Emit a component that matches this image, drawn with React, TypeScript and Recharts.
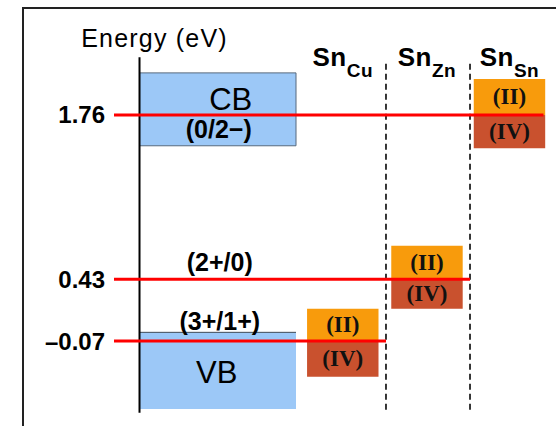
import { ComposedChart, ReferenceArea, ReferenceDot, ReferenceLine, XAxis, YAxis } from "recharts";

// transition levels (eV) for Sn on Cu, Zn and Sn sites
const sites = ["Cu", "Zn", "Sn"];
const levels = [-0.07, 0.43, 1.76];
const levelLabels = ["(3+/1+)", "(2+/0)", "(0/2−)"];
const stateTop = [0.19, 0.7, 2.05]; // top of the (II) box
const stateBottom = [-0.36, 0.19, 1.49]; // bottom of the (IV) box
const stateNames = ["(II)", "(IV)"];
const cbBand = [1.51, 2.1];
const vbBand = [-0.62, 0.0];

// layout in x units (axis at 0, one column ~ 1)
const HOST_W = 1.84;
const COL_X = [2.39, 3.38, 4.35];
const COL_HALF = 0.42;
const DIV_X = [2.898, 3.886];
const LINE_END = [2.898, 3.886, 4.75];
const X_MIN = -0.3;

const ARIAL = "'Liberation Sans', Arial, sans-serif";
const TIMES = "'Liberation Serif', 'Times New Roman', serif";

const TextAt = ({ viewBox, text, sub, dx = 0, dy = 0, size = 25, weight = "bold", subSize = 19, subDy = 11, spacing = 0 }: any) => {
  const cx = viewBox.x + viewBox.width / 2;
  const cy = viewBox.y + viewBox.height / 2;
  return (
    <text
      x={cx + dx}
      y={cy + dy}
      textAnchor="middle"
      fontFamily={ARIAL}
      fontSize={size}
      fontWeight={weight}
      letterSpacing={spacing}
      fill="#000"
    >
      {text}
      {sub && (
        <tspan fontSize={subSize} dy={subDy}>
          {sub}
        </tspan>
      )}
    </text>
  );
};

const StateLabel = ({ viewBox, text }: any) => (
  <text
    x={viewBox.x + viewBox.width / 2}
    y={viewBox.y + viewBox.height / 2 + 7}
    textAnchor="middle"
    fontFamily={TIMES}
    fontSize={23}
    fontWeight="bold"
    fill="#111"
  >
    {text}
  </text>
);

export default function App() {
  return (
    <div style={{ position: "absolute", left: 0, top: 0, width: 556, height: 426, background: "#fff", overflow: "hidden" }}>
      <div
        style={{
          position: "absolute",
          left: 22,
          top: 7,
          width: 540,
          height: 440,
          borderTop: "2px solid #222",
          borderLeft: "2px solid #222",
        }}
      />
      <div style={{ position: "absolute", left: 0, top: 0 }}>
        <ComposedChart width={556} height={426} data={[]} margin={{ top: 42, right: 4, bottom: 1, left: 0 }}>
          <XAxis type="number" dataKey="x" domain={[X_MIN, 4.85]} allowDataOverflow hide />
          <YAxis
            type="number"
            domain={[-0.75, 2.35]}
            allowDataOverflow
            ticks={levels}
            interval={0}
            width={114}
            axisLine={false}
            tickLine={false}
            tickSize={0}
            tickMargin={9}
            tick={{ fill: "#000", fontSize: 24, fontWeight: "bold", fontFamily: ARIAL }}
            tickFormatter={(v: number) => (v < 0 ? "–" + Math.abs(v).toFixed(2) : v.toFixed(2))}
          />

          {/* conduction and valence bands */}
          <ReferenceArea
            x1={0}
            x2={HOST_W}
            y1={cbBand[0]}
            y2={cbBand[1]}
            fill="#9cc8f7"
            fillOpacity={1}
            stroke="#56697d"
            strokeWidth={1}
            ifOverflow="visible"
            label={<TextAt text="CB" size={31} weight="normal" dx={13} dy={1} />}
          />
          <ReferenceArea
            x1={0}
            x2={HOST_W}
            y1={vbBand[0]}
            y2={vbBand[1]}
            fill="#9cc8f7"
            fillOpacity={1}
            ifOverflow="visible"
            label={<TextAt text="VB" size={31} weight="normal" dx={-1} dy={12} />}
          />
          <ReferenceLine
            segment={[
              { x: 0, y: vbBand[1] },
              { x: HOST_W, y: vbBand[1] },
            ]}
            stroke="#3f4a55"
            strokeWidth={1}
            ifOverflow="visible"
          />

          {/* (II) / (IV) boxes */}
          {sites.map((s, i) => (
            <ReferenceArea
              key={"ii" + s}
              x1={COL_X[i] - COL_HALF}
              x2={COL_X[i] + COL_HALF}
              y1={levels[i]}
              y2={stateTop[i]}
              fill="#f89b0c"
              fillOpacity={1}
              ifOverflow="visible"
              label={<StateLabel text={stateNames[0]} />}
            />
          ))}
          {sites.map((s, i) => (
            <ReferenceArea
              key={"iv" + s}
              x1={COL_X[i] - COL_HALF}
              x2={COL_X[i] + COL_HALF}
              y1={stateBottom[i]}
              y2={levels[i]}
              fill="#c9512e"
              fillOpacity={1}
              ifOverflow="visible"
              label={<StateLabel text={stateNames[1]} />}
            />
          ))}

          {/* column dividers */}
          {DIV_X.map((x) => (
            <ReferenceLine
              key={"d" + x}
              segment={[
                { x, y: -0.627 },
                { x, y: 2.18 },
              ]}
              stroke="#222"
              strokeWidth={1.8}
              strokeDasharray="6 4"
              ifOverflow="visible"
            />
          ))}

          {/* energy axis */}
          <ReferenceLine
            segment={[
              { x: 0, y: -0.651 },
              { x: 0, y: 2.227 },
            ]}
            stroke="#000"
            strokeWidth={2}
            ifOverflow="visible"
          />

          {/* transition levels */}
          {levels.map((e, i) => (
            <ReferenceLine
              key={"l" + e}
              segment={[
                { x: X_MIN, y: e },
                { x: LINE_END[i], y: e },
              ]}
              stroke="#ff0000"
              strokeWidth={3}
              ifOverflow="visible"
            />
          ))}

          {/* level labels */}
          <ReferenceDot x={HOST_W / 2} y={levels[2]} r={0} ifOverflow="visible" label={<TextAt text={levelLabels[2]} dy={23} dx={1} />} />
          <ReferenceDot x={HOST_W / 2} y={levels[1]} r={0} ifOverflow="visible" label={<TextAt text={levelLabels[1]} dy={-8} dx={2} />} />
          <ReferenceDot x={HOST_W / 2} y={levels[0]} r={0} ifOverflow="visible" label={<TextAt text={levelLabels[0]} dy={-11} dx={2} />} />

          {/* site headers */}
          {sites.map((s, i) => (
            <ReferenceDot key={"h" + s} x={COL_X[i]} y={2.18} r={0} ifOverflow="visible" label={<TextAt text="Sn" sub={s} size={26} dy={3} spacing={0.5} />} />
          ))}

          {/* axis title */}
          <ReferenceDot
            x={0}
            y={2.227}
            r={0}
            ifOverflow="visible"
            label={<TextAt text="Energy (eV)" size={25} weight="normal" dx={15} dy={-10} spacing={1.2} />}
          />
        </ComposedChart>
      </div>
    </div>
  );
}
